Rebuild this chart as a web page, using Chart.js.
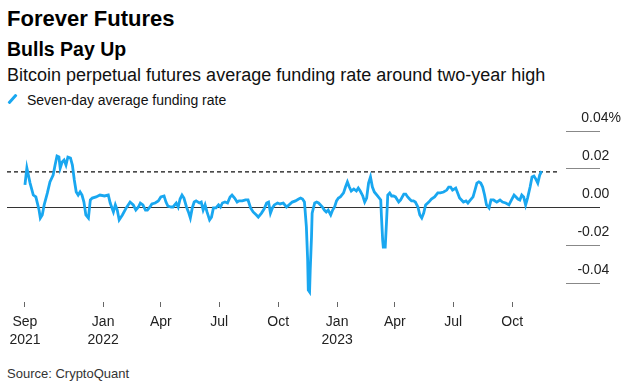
<!DOCTYPE html>
<html>
<head>
<meta charset="utf-8">
<script src="https://cdn.jsdelivr.net/npm/chart.js@4.4.1/dist/chart.umd.min.js"></script>
<style>
  body { margin: 0; background: #fff; font-family: "Liberation Sans", Arial, sans-serif; color: #111; }
  #page { position: relative; width: 621px; height: 392px; overflow: hidden; }
  .txt { position: absolute; left: 7px; white-space: nowrap; line-height: 1; }
  #title { top: 8px; font-size: 22px; font-weight: bold; color: #000; }
  #sub { top: 40px; font-size: 19.5px; font-weight: bold; color: #000; }
  #desc { top: 66px; font-size: 18px; color: #111; }
  #legend { top: 93px; left: 27px; font-size: 14px; color: #111; }
  #swatch { position: absolute; left: 11px; top: 93px; width: 3px; height: 12px; border-radius: 1px; background: #19a7f0; transform: rotate(42deg); }
  #source { top: 367px; font-size: 13px; color: #333; }
  #wrap { position: absolute; left: 0; top: 110px; width: 621px; height: 250px; }
</style>
</head>
<body>
<div id="page">
  <div class="txt" id="title">Forever Futures</div>
  <div class="txt" id="sub">Bulls Pay Up</div>
  <div class="txt" id="desc">Bitcoin perpetual futures average funding rate around two-year high</div>
  <div id="swatch"></div>
  <div class="txt" id="legend">Seven-day average funding rate</div>
  <div id="wrap"><canvas id="fundingChart" width="621" height="250"></canvas></div>
  <div class="txt" id="source">Source: CryptoQuant</div>
</div>
<script>
// days counted from 1 Sep 2021, rate in percent
var days = [0, 3, 8, 13, 17, 22, 24, 27, 30, 35, 39, 44, 47, 50, 53, 55, 58, 61, 64, 67,
    71, 74, 77, 80, 83, 86, 89, 92, 95, 99, 102, 105, 111, 117, 124, 130, 133, 138, 141, 144,
    147, 152, 158, 164, 169, 173, 177, 180, 184, 188, 191, 195, 198, 203, 208, 212, 217, 220, 223, 228,
    231, 236, 239, 242, 245, 248, 252, 255, 258, 261, 264, 267, 272, 275, 278, 281, 284, 288, 291, 294,
    298, 302, 305, 308, 312, 316, 320, 323, 327, 331, 334, 339, 344, 348, 352, 356, 361, 364, 369, 373,
    377, 380, 383, 386, 389, 394, 398, 403, 408, 412, 417, 422, 427, 430, 433, 436, 439, 441, 442, 444,
    445, 447, 448, 452, 455, 458, 461, 464, 467, 470, 473, 477, 480, 483, 486, 489, 492, 497, 500, 503,
    506, 509, 513, 517, 520, 523, 527, 530, 533, 536, 539, 542, 545, 550, 555, 556, 558, 559, 562, 564,
    566, 569, 572, 575, 578, 583, 586, 591, 594, 597, 600, 603, 606, 609, 613, 616, 619, 622, 625, 630,
    634, 639, 644, 648, 653, 658, 661, 664, 667, 672, 675, 678, 681, 684, 688, 691, 695, 699, 702, 705,
    708, 711, 714, 717, 720, 724, 727, 731, 736, 741, 745, 750, 755, 759, 763, 766, 769, 772, 775, 778,
    781, 784, 788, 791, 794, 797, 800, 803, 806];
var rate = [0.0116, 0.0205, 0.0126, 0.0063, 0.0053, -0.0016, -0.0058, -0.0042, 0.0011, 0.0074,
    0.0132, 0.0168, 0.0221, 0.0268, 0.0263, 0.0205, 0.0237, 0.0247, 0.0221, 0.0263,
    0.0258, 0.0221, 0.0142, 0.0079, 0.0063, 0.0079, 0.0063, 0.0026, -0.0042, -0.0058,
    0.0037, 0.0047, 0.0053, 0.0063, 0.0058, 0.0063, 0.0021, -0.0026, 0.0011, -0.0016,
    -0.0068, -0.0042, -0.0005, 0.0026, 0.0011, -0.0016, 0.0000, 0.0021, 0.0011, -0.0016,
    -0.0016, 0.0000, 0.0016, 0.0021, 0.0032, 0.0053, 0.0058, 0.0026, 0.0005, 0.0000,
    0.0000, 0.0021, 0.0000, 0.0042, 0.0063, 0.0047, 0.0000, -0.0026, -0.0058, -0.0005,
    0.0026, 0.0032, 0.0021, 0.0026, -0.0016, 0.0011, -0.0026, -0.0068, -0.0053, -0.0005,
    -0.0005, 0.0011, 0.0000, 0.0021, 0.0026, 0.0021, 0.0053, 0.0063, 0.0047, 0.0026,
    0.0032, 0.0032, 0.0037, 0.0037, -0.0005, -0.0026, -0.0042, -0.0053, -0.0032, -0.0011,
    0.0021, 0.0026, -0.0032, -0.0005, 0.0011, 0.0021, 0.0016, 0.0021, 0.0000, 0.0011,
    0.0026, 0.0032, 0.0042, 0.0047, 0.0042, 0.0026, -0.0105, -0.0279, -0.0437, -0.0447,
    -0.0332, -0.0158, -0.0032, 0.0021, 0.0026, 0.0021, 0.0011, 0.0000, -0.0016, -0.0026,
    -0.0016, -0.0042, -0.0016, 0.0000, 0.0032, 0.0047, 0.0053, 0.0074, 0.0105, 0.0132,
    0.0105, 0.0084, 0.0095, 0.0084, 0.0100, 0.0084, 0.0058, 0.0026, 0.0047, 0.0126,
    0.0158, 0.0105, 0.0079, 0.0058, 0.0037, -0.0042, -0.0174, -0.0211, -0.0211, -0.0079,
    0.0063, 0.0074, 0.0058, 0.0058, 0.0053, 0.0026, 0.0037, 0.0068, 0.0068, 0.0053,
    0.0042, 0.0032, 0.0032, 0.0026, 0.0000, -0.0042, -0.0058, -0.0032, 0.0011, 0.0026,
    0.0042, 0.0053, 0.0074, 0.0074, 0.0079, 0.0089, 0.0105, 0.0105, 0.0089, 0.0100,
    0.0074, 0.0047, 0.0037, 0.0026, 0.0032, 0.0021, 0.0037, 0.0053, 0.0089, 0.0126,
    0.0132, 0.0126, 0.0105, 0.0063, 0.0011, -0.0005, 0.0037, 0.0037, 0.0026, 0.0037,
    0.0026, 0.0021, 0.0011, 0.0037, 0.0063, 0.0053, 0.0042, 0.0037, 0.0063, 0.0053,
    0.0011, 0.0047, 0.0105, 0.0158, 0.0163, 0.0147, 0.0126, 0.0168, 0.0189];

var highLevel = 0.0185;
var highLine = [-28, 830];

var tickDays = [0, 122, 212, 303, 395, 487, 577, 668, 760];
var tickLabels = [['Sep', '2021'], ['Jan', '2022'], ['Apr'], ['Jul'], ['Oct'], ['Jan', '2023'], ['Apr'], ['Jul'], ['Oct']];
var yTicks = [0.04, 0.02, 0, -0.02, -0.04];
var yLabels = ['0.04%', '0.02', '0.00', '-0.02', '-0.04'];

Chart.defaults.font.family = '"Liberation Sans", Arial, sans-serif';

var ctx = document.getElementById('fundingChart').getContext('2d');
var fundingChart = new Chart(ctx, {
    type: 'line',
    data: {
        datasets: [{
            data: days.map((d, i) => ({ x: d, y: rate[i] })),
            borderColor: '#19a7f0',
            borderWidth: 2.8,
            pointRadius: 0,
            tension: 0,
            order: 0
        }, {
            data: highLine.map(d => ({ x: d, y: highLevel })),
            borderColor: '#111',
            borderWidth: 1.3,
            borderDash: [4, 3],
            pointRadius: 0,
            order: 1
        }]
    },
    options: {
        responsive: false,
        animation: false,
        layout: {
            padding: { left: 7, top: 21, right: 0, bottom: 0 }
        },
        scales: {
            x: {
                type: 'linear',
                min: -28,
                max: 844,
                afterBuildTicks: scale => { scale.ticks = tickDays.map(v => ({ value: v })); },
                afterFit: scale => { scale.height = 58; },
                grid: {
                    drawOnChartArea: false,
                    tickLength: 5,
                    tickColor: '#666'
                },
                border: { display: false },
                ticks: {
                    autoSkip: false,
                    maxRotation: 0,
                    padding: 6,
                    color: '#222',
                    font: { size: 14, lineHeight: 1.3 },
                    callback: (value, index) => tickLabels[index]
                }
            },
            y: {
                position: 'right',
                min: -0.05,
                max: 0.04,
                afterBuildTicks: scale => { scale.ticks = yTicks.map(v => ({ value: v })); },
                afterFit: scale => { scale.width = 55; },
                grid: {
                    drawOnChartArea: true,
                    color: c => (c.tick && c.tick.value === 0) ? '#333' : 'rgba(0,0,0,0)',
                    tickColor: c => (c.tick && c.tick.value === 0) ? '#333' : '#888',
                    tickLength: 34
                },
                border: { display: false },
                ticks: {
                    autoSkip: false,
                    crossAlign: 'far',
                    padding: -32,
                    labelOffset: -13,
                    color: '#222',
                    font: { size: 14 },
                    // pad plain labels so the digits line up under the "%" one
                    callback: (value, index) => yLabels[index].indexOf('%') >= 0 ? yLabels[index] : yLabels[index] + '   '
                }
            }
        },
        plugins: {
            legend: { display: false },
            tooltip: { enabled: false }
        }
    }
});
</script>
</body>
</html>
